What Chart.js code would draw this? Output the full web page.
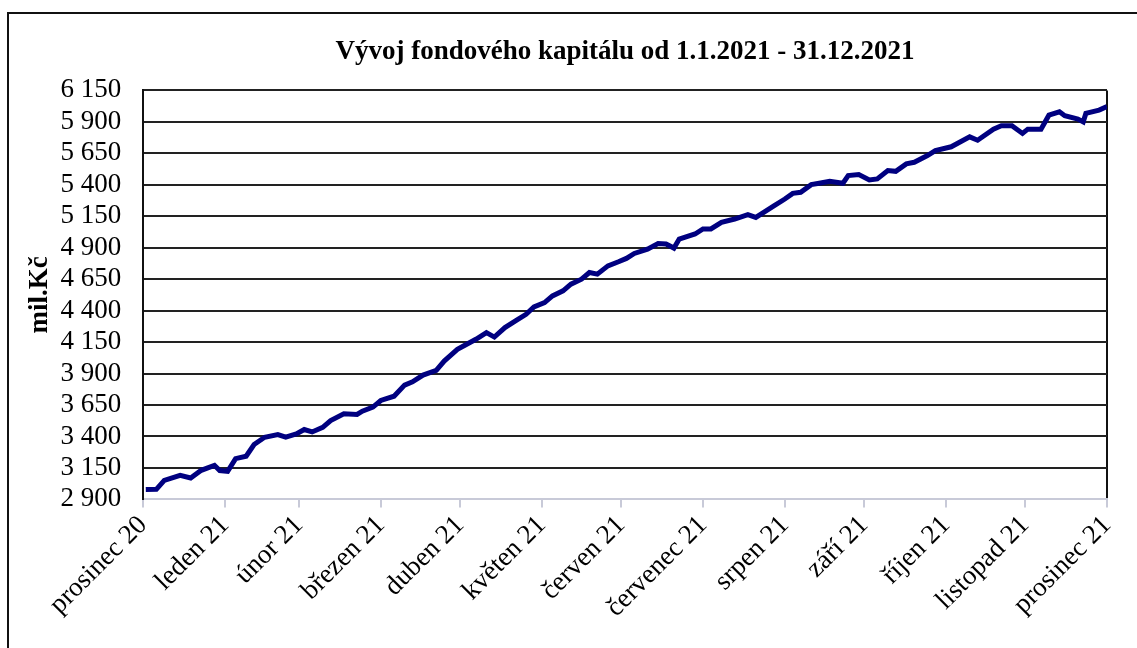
<!DOCTYPE html>
<html>
<head>
<meta charset="utf-8">
<script src="https://cdn.jsdelivr.net/npm/chart.js@4"></script>
<style>
  html, body { margin: 0; padding: 0; background: #fff; overflow: hidden; }
  #frame { position: absolute; left: 7px; top: 12px; width: 1300px; height: 800px; border: 2px solid #111; }
  #wrap { position: absolute; left: 0; top: 0; width: 1137px; height: 648px; }
</style>
</head>
<body>
<div id="frame"></div>
<div id="wrap"><canvas id="chart"></canvas></div>
<script>
'use strict'
const ctx = document.getElementById('chart').getContext('2d')

// month ends, counted in days from 31.12.2020
const monthEnds = [0, 31, 59, 90, 120, 151, 181, 212, 243, 273, 304, 334, 365]
const monthLabels = [
  'prosinec 20',
  'leden 21',
  'únor 21',
  'březen 21',
  'duben 21',
  'květen 21',
  'červen 21',
  'červenec 21',
  'srpen 21',
  'září 21',
  'říjen 21',
  'listopad 21',
  'prosinec 21',
]

const yTicks = [2900, 3150, 3400, 3650, 3900, 4150, 4400, 4650, 4900, 5150, 5400, 5650, 5900, 6150]

// fund capital, mil. Kč
const days = [
  1, 5, 8, 14, 18, 22, 27, 29, 32, 35, 39, 42, 46, 51, 54, 58, 61, 64, 68, 71,
  76, 81, 83, 87, 90, 95, 99, 102, 106, 111, 114, 119, 122, 126, 130, 133, 137, 141, 145, 148,
  152, 155, 159, 162, 166, 169, 172, 176, 180, 183, 186, 191, 195, 198, 201, 203, 209, 212, 215, 219,
  224, 229, 232, 235, 239, 243, 246, 249, 253, 256, 260, 265, 267, 271, 275, 278, 282, 285, 289, 292,
  297, 300, 306, 313, 316, 322, 325, 329, 333, 335, 340, 343, 347, 349, 354, 356, 357, 362, 365,
]
const values = [
  2978, 2980, 3051, 3091, 3070, 3131, 3171, 3129, 3123, 3224, 3243, 3336, 3394, 3415, 3394, 3420, 3455, 3436, 3473, 3527,
  3580, 3575, 3601, 3633, 3686, 3720, 3808, 3834, 3888, 3925, 3999, 4092, 4127, 4172, 4225, 4190, 4265, 4318, 4371, 4429,
  4464, 4517, 4557, 4610, 4650, 4703, 4690, 4756, 4788, 4815, 4854, 4889, 4934, 4929, 4897, 4969, 5009, 5049, 5049, 5101,
  5128, 5162, 5141, 5181, 5234, 5287, 5332, 5340, 5401, 5412, 5428, 5412, 5473, 5481, 5439, 5447, 5513, 5507, 5566, 5579,
  5632, 5672, 5702, 5781, 5754, 5842, 5869, 5869, 5808, 5842, 5842, 5953, 5980, 5949, 5922, 5900, 5967, 5993, 6021,
]

const serif = 'Liberation Serif'
const fmt = v => {
  const s = String(Math.round(v))
  return s.length > 3 ? s.slice(0, -3) + ' ' + s.slice(-3) : s
}

const data = {
  datasets: [
    {
      label: 'Fondový kapitál',
      data: days.map((d, i) => ({ x: d, y: values[i] })),
      borderColor: '#000080',
      backgroundColor: '#000080',
      borderWidth: 5,
      pointRadius: 0,
      tension: 0,
      fill: false,
    },
  ],
}

const config = {
  type: 'line',
  data: data,
  options: {
    responsive: true,
    maintainAspectRatio: false,
    animation: false,
    layout: { padding: { top: 0, right: 30, bottom: 22, left: 0 } },
    plugins: {
      legend: { display: false },
      tooltip: { enabled: false },
      title: {
        display: true,
        text: 'Vývoj fondového kapitálu od 1.1.2021 - 31.12.2021',
        fullSize: false,
        color: '#000',
        font: { family: serif, size: 27, weight: 'bold' },
        padding: { top: 36, bottom: 22 },
      },
    },
    scales: {
      x: {
        type: 'linear',
        min: 0,
        max: 365,
        afterBuildTicks: scale => {
          scale.ticks = monthEnds.map(v => ({ value: v }))
        },
        ticks: {
          autoSkip: false,
          minRotation: 45,
          maxRotation: 45,
          color: '#000',
          font: { family: serif, size: 27 },
          padding: 2,
          callback: (v, i) => monthLabels[i],
        },
        grid: {
          drawOnChartArea: true,
          color: c => (c.index === monthEnds.length - 1 ? '#111' : 'rgba(0,0,0,0)'),
          tickColor: '#c8cad8',
          tickLength: 8,
          lineWidth: 2,
        },
        border: { color: '#c8cad8', width: 2 },
      },
      y: {
        min: yTicks[0],
        max: yTicks[yTicks.length - 1],
        afterBuildTicks: scale => {
          scale.ticks = yTicks.map(v => ({ value: v }))
        },
        ticks: {
          autoSkip: false,
          color: '#000',
          font: { family: serif, size: 27 },
          padding: 22,
          callback: v => fmt(v),
        },
        grid: {
          drawTicks: false,
          color: c => (c.tick && c.tick.value === yTicks[0] ? 'rgba(0,0,0,0)' : '#222'),
          lineWidth: 2,
        },
        border: { color: '#111', width: 2 },
        title: {
          display: true,
          text: 'mil.Kč',
          color: '#000',
          font: { family: serif, size: 27, weight: 'bold' },
          padding: { top: 24, bottom: -18 },
        },
      },
    },
  },
}

const chart = new Chart(ctx, config)
</script>
</body>
</html>
